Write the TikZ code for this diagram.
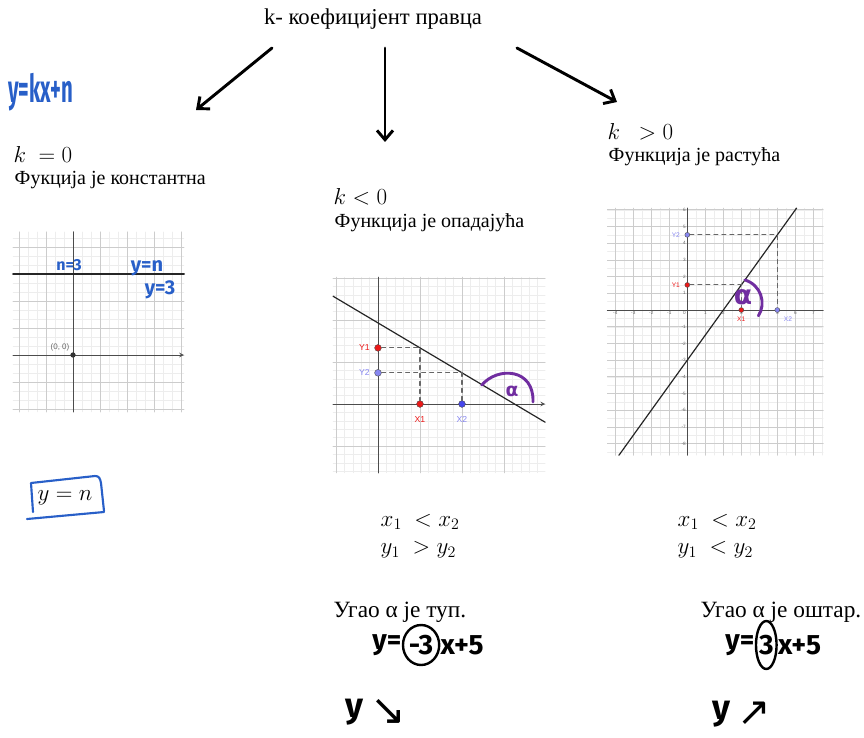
\documentclass[tikz,border=0pt]{standalone}
\usepackage{fontspec}
\setmainfont{Liberation Serif}
\newfontfamily\handfont{Fira Sans}
\newfontfamily\ggfont{Liberation Sans}
\newfontfamily\symfont{DejaVu Sans}
\usetikzlibrary{arrows.meta,positioning,shapes.geometric}
\definecolor{penblue}{RGB}{40,95,200}
\definecolor{penpurple}{RGB}{112,45,160}
\definecolor{ggred}{RGB}{235,25,25}
\definecolor{ggblue}{RGB}{70,70,235}
\definecolor{gglav}{RGB}{135,135,240}
\tikzset{
	minorgrid/.style={black!7, line width=0.3pt},
	majorgrid/.style={black!20, line width=0.5pt},
	ggaxis/.style={black!70, line width=0.6pt},
	ggline/.style={black!85, line width=0.9pt},
	helper/.style={dashed, black!60, line width=0.8pt},
	ggpt/.style={circle, draw=black!70, line width=0.3pt, inner sep=1.8pt},
	ptlabel/.style={font=\ggfont\fontsize{6.5}{7}\selectfont},
	ticklbl/.style={font=\ggfont\fontsize{3.5}{4}\selectfont, text=black!60, inner sep=1pt},
	hand/.style={font=\handfont\bfseries\fontsize{#1}{#1}\selectfont, inner sep=0pt},
	hand/.default=16,
	mathtxt/.style={font=\fontsize{18}{20}\selectfont},
	alphaarc/.style={penpurple, line width=2.2pt, line cap=round},
	bigarrow/.style={line width=2.2pt, -{Straight Barb[length=7pt,width=12pt]}},
}
\begin{document}
\begin{tikzpicture}[x=0.75pt, y=-0.75pt, font=\fontsize{15}{17}\selectfont, line join=round, line cap=round, >=stealth]
	\useasboundingbox (0,0) rectangle (864,738);
	\node[font=\fontsize{17}{19}\selectfont] (title) at (373,19) {k- коефицијент правца};
	\path (272,48) coordinate (sL)
		(385,48) coordinate (sM)
		(517,48) coordinate (sR)
		(196,110) coordinate (eL)
		(385,142) coordinate (eM)
		(617,102) coordinate (eR);
	\foreach \s/\e in {sL/eL,sM/eM,sR/eR} \draw[bigarrow] (\s)--(\e);
	\node[hand=17, text=penblue, anchor=west, xscale=0.9, yscale=1.7] (gen) at (8,92) {y=kx+n};
	% k = 0
	\node[anchor=west, mathtxt] (kzero) at (9,155) {$k\ = 0$};
	\node[anchor=west] (const) at (10,180) {Фукција је константна};
	\begin{scope}[shift={(73,355)}, x=20.25pt, y=20.25pt]
		\draw[minorgrid, step=1/3] (-2.22,-2.11) grid (4.11,4.56);
		\draw[majorgrid, step=1] (-2.22,-2.11) grid (4.11,4.56);
		\draw[ggaxis, ->] (-2.22,0) -- (4.11,0);
		\draw[ggaxis] (0,-2.11) -- (0,4.56);
		\draw[black!85, line width=1.6pt] (-2.22,3) -- (4.11,3);
		\node[circle, fill=black!80, inner sep=1.4pt] (orig) at (0,0) {};
		\node[ticklbl, font=\ggfont\fontsize{6}{7}\selectfont, anchor=south east] at (orig.north west) {(0, 0)};
	\end{scope}
	\node[hand=12, text=penblue] (nthree) at (69,265) {n=3};
	\node[hand=15, text=penblue] (yn) at (147,268) {y=n};
	\node[hand=15, text=penblue] (ythree) at (160,290) {y=3};
	\node[mathtxt] (boxyn) at (65,498) {$y = n$};
	\draw[penblue, line width=1.6pt] (31,483) -- (95,476) .. controls (99,476) and (100,478) .. (101,483) -- (104,511)
		(27,519) -- (104,512) (31,483) -- (33,512);
	% k < 0
	\node[anchor=west, mathtxt] (kneg) at (329,197) {$k < 0$};
	\node[anchor=west] (decr) at (330,223) {Функција је опадајућа};
	\begin{scope}[shift={(378,404)}, x=31.5pt, y=31.5pt]
		\draw[minorgrid, step=0.2] (-1.07,-1.64) grid (3.98,3.02);
		\draw[majorgrid, step=1] (-1.07,-1.64) grid (3.98,3.02);
		\draw[ggaxis, ->] (-1.07,0) -- (3.98,0);
		\draw[ggaxis] (0,-1.64) -- (0,3.02);
		\draw[ggline] (-1.07,2.566) -- (3.98,-0.434);
		\node[ggpt, fill=ggred, label={[ptlabel, text=ggred]left:Y1}] (ya) at (0,1.336) {};
		\node[ggpt, fill=ggred, label={[ptlabel, text=ggred, label distance=3pt]below:X1}] (xa) at (1,0) {};
		\node[ggpt, fill=gglav, label={[ptlabel, text=gglav]left:Y2}] (yb) at (0,0.742) {};
		\node[ggpt, fill=ggblue, label={[ptlabel, text=gglav, label distance=3pt]below:X2}] (xb) at (2,0) {};
		\draw[helper] (ya) -| (xa);
		\draw[helper] (yb) -| (xb);
		\draw[alphaarc] (2.47,0.45) .. controls (2.85,0.9) and (3.72,0.85) .. (3.69,0.05);
		\node[text=penpurple, font=\symfont\bfseries\fontsize{14}{14}\selectfont] (angA) at (3.19,0.29) {α};
	\end{scope}
	\node[anchor=west, mathtxt] (ineqA) at (376,522) {$x_1\ < x_2$};
	\node[anchor=west, mathtxt] (ineqB) at (376,550) {$y_1\ > y_2$};
	\node[anchor=west, font=\fontsize{17.5}{19}\selectfont] (obtuse) at (329,612) {Угао α је туп.};
	\node[hand=21] (hyA) at (387,645) {y=};
	\node[hand=21, draw, ellipse, line width=1.8pt, inner sep=0.5pt, minimum height=30pt, right=0pt of hyA] (kA) {-3};
	\node[hand=21, right=0pt of kA] (restA) {x+5};
	\node[hand=26] (yA) at (354,712) {y};
	\node[font=\symfont\fontsize{32}{32}\selectfont, right=2pt of yA] (downA) {↘};
	% k > 0
	\node[anchor=west, mathtxt] (kpos) at (603,132) {$k\ \ > 0$};
	\node[anchor=west] (incr) at (604,157) {Функција је растућа};
	\begin{scope}[shift={(687.3,310)}, x=13.5pt, y=12.525pt]
		\draw[minorgrid, step=0.5] (-4.44,-8.7) grid (7.55,6.1);
		\draw[majorgrid, step=1] (-4.44,-8.7) grid (7.55,6.1);
		\draw[ggaxis] (-4.44,0) -- (7.55,0);
		\draw[ggaxis] (0,-8.7) -- (0,6.1);
		\foreach \t in {-4,...,-1,1,2,...,7} \node[ticklbl, anchor=north] at (\t,0) {\t};
		\foreach \t in {-8,...,-1,1,2,...,6} \node[ticklbl, anchor=east] at (0,\t) {\t};
		\node[ticklbl, anchor=north east] at (0,0) {0};
		\draw[ggline] (-3.8,-8.7) -- (6.07,6.1);
		\node[ggpt, inner sep=1.3pt, fill=ggred, label={[ptlabel, font=\ggfont\fontsize{5}{6}\selectfont, text=ggred]left:Y1}] (yc) at (0,1.5) {};
		\node[ggpt, inner sep=1.3pt, fill=ggred, label={[ptlabel, font=\ggfont\fontsize{5}{6}\selectfont, text=ggred]below:X1}] (xc) at (3,0) {};
		\node[ggpt, inner sep=1.3pt, fill=gglav, label={[ptlabel, font=\ggfont\fontsize{5}{6}\selectfont, text=gglav]left:Y2}] (yd) at (0,4.5) {};
		\node[ggpt, inner sep=1.3pt, fill=gglav, label={[ptlabel, font=\ggfont\fontsize{5}{6}\selectfont, text=gglav]below right:X2}] (xd) at (5,0) {};
		\draw[helper] (yc) -| (xc);
		\draw[helper] (yd) -| (xd);
		\draw[alphaarc] (3.2,1.8) .. controls (4.1,1.5) and (4.4,0.4) .. (3.95,-0.35);
		\node[text=penpurple, font=\symfont\bfseries\fontsize{20}{20}\selectfont] (angB) at (3.1,0.75) {α};
	\end{scope}
	\node[anchor=west, mathtxt] (ineqC) at (673,522) {$x_1\ < x_2$};
	\node[anchor=west, mathtxt] (ineqD) at (673,550) {$y_1\ < y_2$};
	\node[anchor=west, font=\fontsize{17.5}{19}\selectfont] (acute) at (696,612) {Угао α је оштар.};
	\node[hand=21] (hyB) at (740,645) {y=};
	\node[hand=21, draw, ellipse, line width=1.8pt, inner sep=0pt, minimum height=36pt, minimum width=14pt, right=0pt of hyB] (kB) {3};
	\node[hand=21, right=0pt of kB] (restB) {x+5};
	\node[hand=26] (yB) at (721,714) {y};
	\node[font=\symfont\fontsize{30}{30}\selectfont, right=2pt of yB] (upB) {↗};
\end{tikzpicture}
\end{document}
